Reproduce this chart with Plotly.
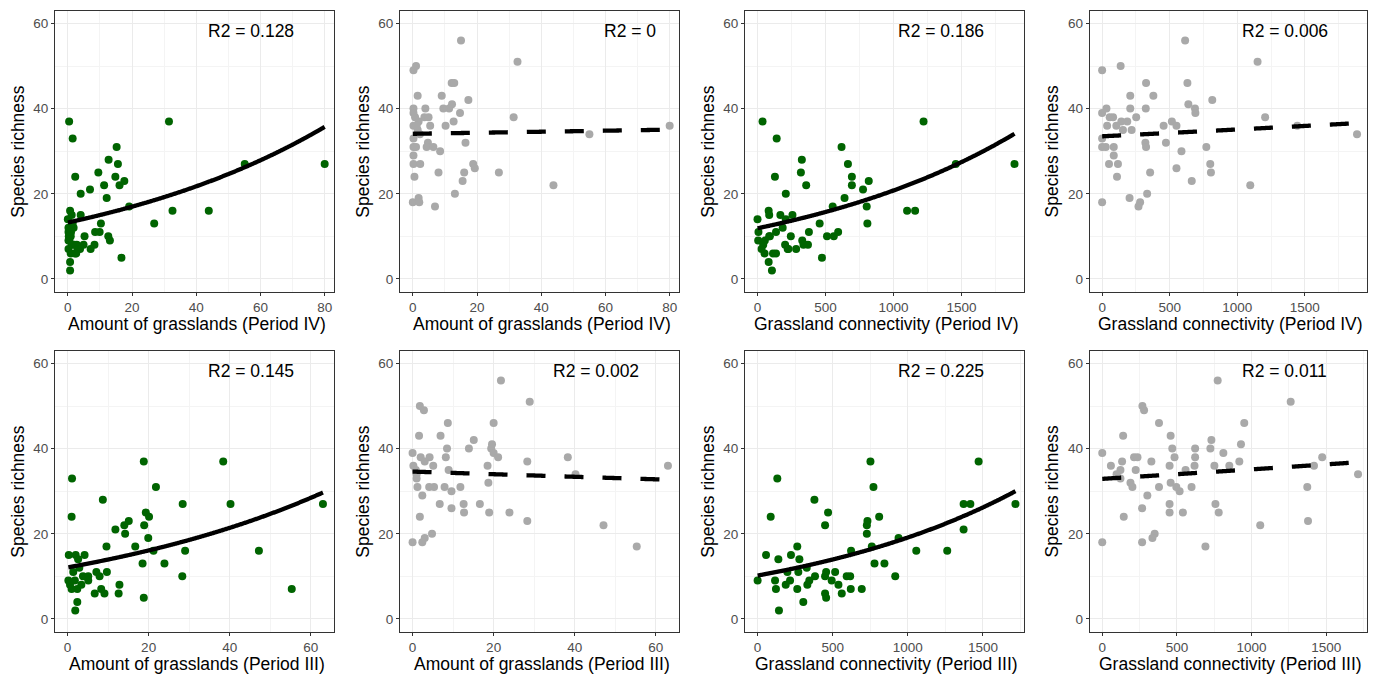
import numpy as np
import plotly.graph_objects as go

# ---------------- data ----------------
# Panel 1: Amount of grasslands (Period IV) vs richness (green)
amt4_green_x = [0.4,1.5,2.3,4,6.9,9.5,12.7,15.2,15.6,14.8,17.6,16.1,11.3,12.1,19.1,31.5,55.1,80,32.6,43.9,
                26.9,16.7,10.3,8.5,9.9,12.6,13.1,8.3,7.1,5.2,4.9,3.8,2.6,0.7,0.7,0,0.7,1.2,4,1.8,
                0.2,0.9,0.2,1.2,0.2,0.9,2,2.8,0.2,1.5,0.5,1.0,3.0,2.2,0.3]
amt4_green_y = [37,33,24,20,21,25,28,31,27,24,23,22,22,19,17,37,27,27,16,16,
                13,5,13,11,11,10,9,8,7,10,8,7,6,4,2,14,16,15,15,12,
                11,10,9,8,7,6,8,8,12,13,9,11,7,6,10]
# Panel 2: Amount of grasslands (Period IV) vs richness (grey)
amt4_grey_x = [15,0.2,1,32.6,9,1.5,12.1,12.9,17.3,12.2,11.3,9.5,0.2,3.9,14.7,0.2,0.7,3.6,4.9,31.4,
               12.7,1.8,0.2,5.4,10.2,80,1.5,55,2.2,0.2,4.7,16.4,0.2,1,4.3,6.4,8.5,0.2,0.2,2.3,
               18.8,19.3,0.5,8,16,26.8,15.5,43.8,13.1,0,1.8,2,6.9,1.2]
amt4_grey_y = [56,49,50,51,43,43,46,46,42,41,40,40,40,40,39,39,38,38,38,38,
               37,37,36,36,36,36,35,34,34,33,32,32,31,31,31,31,30,29,27,27,
               27,26,24,25,25,25,23,22,20,18,19,18,17,36]
# Panel 3: Grassland connectivity (Period IV) vs richness (green)
con4_green_x = [37,141,128,208,326,319,358,618,665,694,694,776,818,803,808,640,553,1221,1458,1890,
                1100,1159,0,82,86,168,257,208,185,136,7,86,245,30,52,82,106,114,136,5,
                54,203,222,284,329,338,371,378,457,474,511,561,593,227,42,91]
con4_green_y = [37,33,24,20,28,25,22,31,27,24,22,21,23,17,13,19,17,37,27,27,
                16,16,14,16,15,15,15,14,12,11,11,10,10,7,6,4,2,6,6,9,
                9,8,7,7,9,8,8,11,13,5,10,10,11,7,8,10]
# Panel 4: Grassland connectivity (Period IV) vs richness (grey)
con4_grey_x = [614,0,137,1150,208,379,325,631,815,638,687,690,208,323,32,0,56,81,252,1206,
               142,186,516,37,105,455,550,1444,154,218,1886,0,320,472,0,27,86,325,771,587,
               86,51,117,800,550,355,805,110,663,1096,333,203,0,281,269]
con4_grey_y = [56,49,50,51,43,43,46,46,42,41,40,39,40,40,40,39,38,38,38,38,
               37,37,37,36,36,36,36,36,35,35,34,33,32,32,31,31,31,31,31,30,
               29,27,27,27,26,25,25,24,23,22,20,19,18,18,17]
# Panel 5: Amount of grasslands (Period III) vs richness (green)
amt3_green_x = [18.8,38.4,1.1,21.8,8.7,1,28.4,40.2,63,19.3,20.1,15.1,14,18.9,11.8,14.2,19.9,9.6,16.7,29,
                21.2,47.2,18.5,23.9,28.3,55.3,18.8,0.3,2,4.2,2.6,2.9,1.4,7.1,9.7,7.9,3.8,5.1,5.1,0.2,
                1.8,3.4,1,2.4,8.3,12.8,6.7,9.1,12.6,2.4,1.9,0.6]
amt3_green_y = [37,37,33,31,28,24,27,27,27,25,24,23,22,22,21,20,19,17,17,16,
                16,16,13,13,10,7,5,15,15,15,14,12,11,11,11,10,10,10,9,9,
                9,8,7,7,7,8,6,6,6,4,2,8]
# Panel 6: Amount of grasslands (Period III) vs richness (grey)
amt3_grey_x = [21.8,28.9,1.8,2.8,8.7,20,1.6,6.9,15.1,19.6,8.5,13.9,19.4,0,20,4.2,8.2,21.1,38.3,2,
               28.3,3,0.2,5.1,18.5,63,8.9,40.2,1,1,18.7,1.2,4.1,5.3,7.9,11.8,9.6,2.4,6.7,12.6,
               16.6,9.6,12.7,18.9,23.9,1.8,28.3,47.1,4.8,3,0,2.4,55.3,0.8]
amt3_grey_y = [56,51,50,49,46,46,43,43,42,41,40,40,40,39,39,38,38,38,38,38,
               37,37,36,36,36,36,35,34,34,33,32,31,31,31,31,31,30,29,27,27,
               27,26,25,25,25,24,23,22,20,19,18,18,17,35]
# Panel 7: Grassland connectivity (Period III) vs richness (green)
con3_green_x = [751,1471,131,771,378,87,469,449,727,731,809,727,1371,1416,1716,1371,938,760,264,778,
                844,622,1056,1262,56,222,138,278,327,198,271,456,516,382,449,593,616,916,0,116,
                216,344,493,187,331,538,122,264,620,693,449,560,456,304,142]
con3_green_y = [37,37,33,31,28,24,25,22,22,23,24,20,27,27,27,21,19,17,17,13,
                13,16,16,16,15,15,14,14,12,11,11,11,11,10,10,10,10,10,9,9,
                9,9,9,8,8,8,7,7,7,7,6,6,5,4,2]
# Panel 8: Grassland connectivity (Period III) vs richness (grey)
con3_grey_x = [773,1262,269,280,380,951,140,458,731,929,469,724,622,0,811,1473,213,236,484,622,
               133,329,918,58,451,618,751,851,224,122,558,96,1713,1418,122,189,458,202,380,496,
               598,1373,518,302,451,758,267,451,540,780,144,1378,1058,351,336,0,267,691]
con3_grey_y = [56,51,50,49,46,46,43,43,42,41,40,40,40,39,39,38,38,38,38,38,
               37,37,37,36,36,36,36,36,35,35,35,34,34,36,33,32,32,31,31,31,
               31,31,30,29,27,27,26,25,25,25,24,23,22,20,19,18,18,17]

# Poisson-type fits (log link): log(y) = a + b*x
fit_intercept = [2.584, 3.529, 2.4765, 3.5115, 2.493, 3.544, 2.322, 3.4935]
fit_slope = [0.01239, 0.000351, 0.000557, 0.0000468, 0.01425, -0.000897, 0.000629, 0.0000655]
r2_labels = ["R2 = 0.128", "R2 = 0", "R2 = 0.186", "R2 = 0.006",
             "R2 = 0.145", "R2 = 0.002", "R2 = 0.225", "R2 = 0.011"]
x_titles = ["Amount of grasslands (Period IV)", "Amount of grasslands (Period IV)",
            "Grassland connectivity (Period IV)", "Grassland connectivity (Period IV)",
            "Amount of grasslands (Period III)", "Amount of grasslands (Period III)",
            "Grassland connectivity (Period III)", "Grassland connectivity (Period III)"]
y_title = "Species richness"
y_ticks = [0, 20, 40, 60]

# ---------------- layout geometry ----------------
W, H = 1378, 678
FONT = "Liberation Sans, Arial, sans-serif"
GREEN = "#006400"
GREY = "#A9A9A9"

panels = [
    (amt4_green_x, amt4_green_y, GREEN, "solid"),
    (amt4_grey_x, amt4_grey_y, GREY, "dash"),
    (con4_green_x, con4_green_y, GREEN, "solid"),
    (con4_grey_x, con4_grey_y, GREY, "dash"),
    (amt3_green_x, amt3_green_y, GREEN, "solid"),
    (amt3_grey_x, amt3_grey_y, GREY, "dash"),
    (con3_green_x, con3_green_y, GREEN, "solid"),
    (con3_grey_x, con3_grey_y, GREY, "dash"),
]
col_px = [(55, 334.3), (400, 679.3), (745, 1024.3), (1089.7, 1367.3)]
row_px = [(10.7, 291.7), (350.7, 631.7)]
x_ranges = [[-4, 83], [-4, 83], [-92, 1962], [-92, 1962],
            [-3.1, 65.8], [-3.1, 65.8], [-84, 1775], [-84, 1775]]
x_major = [20, 20, 500, 500, 20, 20, 500, 500]
r2_frac = [0.702, 0.823, 0.702, 0.702, 0.702, 0.702, 0.702, 0.702]
ytitle_px = [18.5, 363.5, 708.5, 1052.3]

fig = go.Figure()
annotations = []
for i, (xs, ys, color, dash) in enumerate(panels):
    r, c = divmod(i, 4)
    n = i + 1
    xa = "x" if n == 1 else f"x{n}"
    ya = "y" if n == 1 else f"y{n}"
    xs = np.array(xs, dtype=float)
    ys = np.array(ys, dtype=float)
    fig.add_trace(go.Scatter(x=xs, y=ys, mode="markers", xaxis=xa, yaxis=ya,
                             marker=dict(color=color, size=8, line=dict(width=0)),
                             showlegend=False, hoverinfo="x+y"))
    xg = np.linspace(xs.min(), xs.max(), 200)
    yg = np.exp(fit_intercept[i] + fit_slope[i] * xg)
    fig.add_trace(go.Scatter(x=xg, y=yg, mode="lines", xaxis=xa, yaxis=ya,
                             line=dict(color="black", width=4.3, shape="spline",
                                       dash="solid" if dash == "solid" else "19px,19px"),
                             showlegend=False, hoverinfo="skip"))
    x0p, x1p = col_px[c]
    y0p, y1p = row_px[r]
    xdom = [x0p / W, x1p / W]
    ydom = [1 - y1p / H, 1 - y0p / H]
    axis_common = dict(showline=True, mirror=True, linecolor="#333333", linewidth=1.1,
                       showgrid=True, gridcolor="#EBEBEB", gridwidth=1.1, zeroline=False,
                       ticks="outside", ticklen=3, tickwidth=1.1, tickcolor="#333333",
                       tickfont=dict(family=FONT, size=13.5, color="#4D4D4D"))
    fig.layout[("xaxis" if n == 1 else f"xaxis{n}")] = dict(
        domain=xdom, anchor=ya, range=x_ranges[i], tick0=0, dtick=x_major[i],
        minor=dict(dtick=x_major[i] / 2, tick0=0, showgrid=True, gridcolor="#F4F4F4",
                   gridwidth=0.6, ticks=""),
        **axis_common)
    fig.layout[("yaxis" if n == 1 else f"yaxis{n}")] = dict(
        domain=ydom, anchor=xa, range=[-3, 63], tickvals=y_ticks,
        minor=dict(dtick=10, tick0=0, showgrid=True, gridcolor="#F4F4F4",
                   gridwidth=0.6, ticks=""),
        **axis_common)
    # R2 label
    annotations.append(dict(text=r2_labels[i], xref="paper", yref="paper",
                            x=(x0p + r2_frac[i] * (x1p - x0p)) / W,
                            y=1 - (y0p + 19.8) / H, xanchor="center", yanchor="middle",
                            showarrow=False, font=dict(family=FONT, size=17.5, color="black")))
    # x title
    annotations.append(dict(text=x_titles[i], xref="paper", yref="paper",
                            x=((x0p + x1p) / 2 + 2) / W, y=1 - (y1p + 32.5) / H,
                            xanchor="center", yanchor="middle", showarrow=False,
                            font=dict(family=FONT, size=17.5, color="black")))
    # y title
    annotations.append(dict(text=y_title, xref="paper", yref="paper",
                            x=ytitle_px[c] / W, y=1 - ((y0p + y1p) / 2) / H,
                            xanchor="center", yanchor="middle", textangle=-90, showarrow=False,
                            font=dict(family=FONT, size=17.5, color="black")))

fig.update_layout(width=W, height=H, margin=dict(l=0, r=0, t=0, b=0),
                  paper_bgcolor="white", plot_bgcolor="white",
                  annotations=annotations, showlegend=False)
fig.write_html("out.html", config={"displayModeBar": False},
               post_script="document.body.style.margin='0px';document.body.style.overflow='hidden';")
